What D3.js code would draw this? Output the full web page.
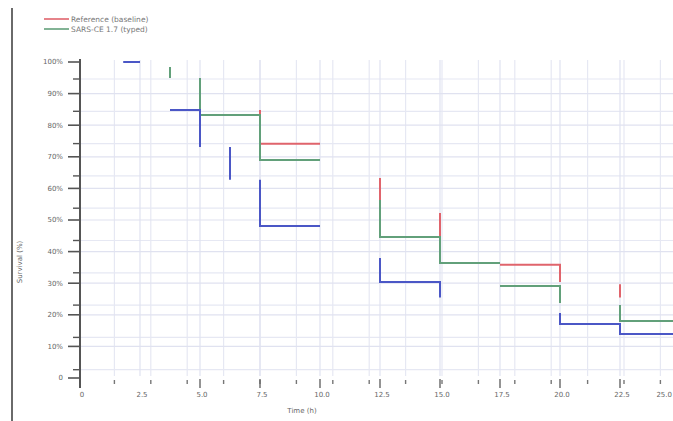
<!DOCTYPE html>
<html>
<head>
<meta charset="utf-8">
<script src="https://cdn.jsdelivr.net/npm/d3@7"></script>
<style>
  html, body { margin: 0; padding: 0; background: #fff; }
  svg { display: block; font-family: "DejaVu Sans", sans-serif; }
</style>
</head>
<body>
<svg id="chart" width="673" height="421"></svg>
<script>
// Tick values for both axes
const xTicks = [0, 2.5, 5, 7.5, 10, 12.5, 15, 17.5, 20, 22.5, 25];
const xTickLabels = ["0", "2.5", "5.0", "7.5", "10.0", "12.5", "15.0", "17.5", "20.0", "22.5", "25.0"];
const yTicks = [0, 10, 20, 30, 40, 50, 60, 70, 80, 90, 100];
const yTickLabels = ["0", "10%", "20%", "30%", "40%", "50%", "60%", "70%", "80%", "90%", "100%"];

// Step segments of each series, [time, percent] pairs
const redSegments = [
  [[7.5, 84.8], [7.5, 74.1], [10, 74.1]],
  [[12.5, 63.3], [12.5, 56.3]],
  [[15, 52.2], [15, 44.6]],
  [[17.5, 35.8], [20, 35.8], [20, 30.4]],
  [[22.5, 29.7], [22.5, 25.5]]
];
const greenSegments = [
  [[3.75, 98.4], [3.75, 94.9]],
  [[5, 94.9], [5, 83.2], [7.5, 83.2], [7.5, 69.0], [10, 69.0]],
  [[12.5, 56.3], [12.5, 44.6], [15, 44.6], [15, 36.4], [17.5, 36.4]],
  [[17.5, 29.1], [20, 29.1], [20, 23.7]],
  [[22.5, 23.1], [22.5, 18.0], [25, 18.0]]
];
const blueSegments = [
  [[1.8, 100], [2.5, 100]],
  [[3.75, 84.8], [5, 84.8], [5, 73.1]],
  [[6.25, 73.1], [6.25, 62.7]],
  [[7.5, 62.7], [7.5, 48.1], [10, 48.1]],
  [[12.5, 38.0], [12.5, 30.4], [15, 30.4], [15, 25.5]],
  [[20, 20.6], [20, 17.1], [22.5, 17.1], [22.5, 13.9], [25, 13.9]]
];

const legendNames = ["Reference (baseline)", "SARS-CE 1.7 (typed)"];

const colors = { red: "#e0646c", green: "#62a07a", blue: "#4b57c6" };

const svg = d3.select("#chart");
const W = 673, H = 421;

const x = d3.scaleLinear().domain([0, 25]).range([80, 680]);
const y = d3.scaleLinear().domain([0, 100]).range([378, 62]);

// Secondary (finer) grid scales
const xMinor = d3.scaleLinear().domain([0, 16]).range([78, 660.4]);
const yMinor = d3.scaleLinear().domain([0, 9]).range([79, 369.7]);

// outer frame line on the left
svg.append("line")
  .attr("x1", 12).attr("x2", 12).attr("y1", 8).attr("y2", H)
  .attr("stroke", "#6a6a6a").attr("stroke-width", 2);

const grid = svg.append("g");
// fine grid
grid.selectAll(".vmin").data(d3.range(1, 17)).join("line")
  .attr("x1", d => xMinor(d)).attr("x2", d => xMinor(d))
  .attr("y1", 60).attr("y2", 376)
  .attr("stroke", "#e6e8f3").attr("stroke-width", 1.2);
grid.selectAll(".hmin").data(d3.range(0, 10)).join("line")
  .attr("x1", 80).attr("x2", W)
  .attr("y1", d => yMinor(d)).attr("y2", d => yMinor(d))
  .attr("stroke", "#e6e8f3").attr("stroke-width", 1.2);
// main grid
grid.selectAll(".vmaj").data(xTicks.slice(1)).join("line")
  .attr("x1", d => x(d)).attr("x2", d => x(d))
  .attr("y1", 60).attr("y2", 376)
  .attr("stroke", "#e0e2f0").attr("stroke-width", 1.2);
grid.selectAll(".hmaj").data(yTicks.slice(1, -1)).join("line")
  .attr("x1", 80).attr("x2", W)
  .attr("y1", d => y(d)).attr("y2", d => y(d))
  .attr("stroke", "#e0e2f0").attr("stroke-width", 1.2);

// Y axis
const yAxis = svg.append("g").attr("transform", "translate(80,0)");
yAxis.append("line").attr("x1", 0).attr("x2", 0).attr("y1", 59).attr("y2", 388)
  .attr("stroke", "#555").attr("stroke-width", 2);
yAxis.selectAll(".tmaj").data(yTicks).join("line")
  .attr("x1", -12).attr("x2", 0)
  .attr("y1", d => y(d)).attr("y2", d => y(d))
  .attr("stroke", "#555").attr("stroke-width", 1.6);
yAxis.selectAll(".tmin").data(d3.range(0, 10)).join("line")
  .attr("x1", -7).attr("x2", 0)
  .attr("y1", d => yMinor(d)).attr("y2", d => yMinor(d))
  .attr("stroke", "#555").attr("stroke-width", 1.4);
yAxis.selectAll("text").data(yTicks).join("text")
  .attr("x", -17).attr("y", d => y(d)).attr("dy", "0.35em")
  .attr("text-anchor", "end").attr("font-size", 7).attr("fill", "#666")
  .text((d, i) => yTickLabels[i]);

// X axis ticks (no baseline)
const xAxis = svg.append("g");
xAxis.selectAll(".dot").data(d3.range(1, 17)).join("line")
  .attr("x1", d => xMinor(d)).attr("x2", d => xMinor(d))
  .attr("y1", 380).attr("y2", 384)
  .attr("stroke", "#777").attr("stroke-width", 1.4);
xAxis.selectAll(".maj").data(xTicks.slice(2)).join("line")
  .attr("x1", d => x(d)).attr("x2", d => x(d))
  .attr("y1", 379).attr("y2", 388)
  .attr("stroke", "#666").attr("stroke-width", 1.4);
const lastTick = xTicks.length - 1;
xAxis.selectAll("text").data(xTicks).join("text")
  .attr("x", (d, i) => i === lastTick ? W - 1 : x(d) + 2).attr("y", 397)
  .attr("text-anchor", (d, i) => i === lastTick ? "end" : "middle")
  .attr("font-size", 7).attr("fill", "#666")
  .text((d, i) => xTickLabels[i]);

// axis titles
svg.append("text").attr("x", 302).attr("y", 413)
  .attr("text-anchor", "middle").attr("font-size", 7).attr("fill", "#666")
  .text("Time (h)");
svg.append("text")
  .attr("transform", "translate(22,262) rotate(-90)")
  .attr("text-anchor", "middle").attr("font-size", 7).attr("fill", "#666")
  .text("Survival (%)");

// step series
const line = d3.line().x(d => x(d[0])).y(d => y(d[1]));
function drawSeries(segments, color) {
  svg.append("g").selectAll("path").data(segments).join("path")
    .attr("d", line)
    .attr("fill", "none").attr("stroke", color)
    .attr("stroke-width", 2).attr("stroke-linecap", "butt");
}
drawSeries(redSegments, colors.red);
drawSeries(greenSegments, colors.green);
drawSeries(blueSegments, colors.blue);

// legend
const legend = svg.append("g");
const legendColors = [colors.red, colors.green];
legendNames.forEach((name, i) => {
  const ly = 19 + i * 10;
  legend.append("line").attr("x1", 44).attr("x2", 69).attr("y1", ly).attr("y2", ly)
    .attr("stroke", legendColors[i]).attr("stroke-width", 1.6);
  legend.append("text").attr("x", 71).attr("y", ly + 3)
    .attr("font-size", 7.5).attr("fill", "#777").text(name);
});
</script>
</body>
</html>
